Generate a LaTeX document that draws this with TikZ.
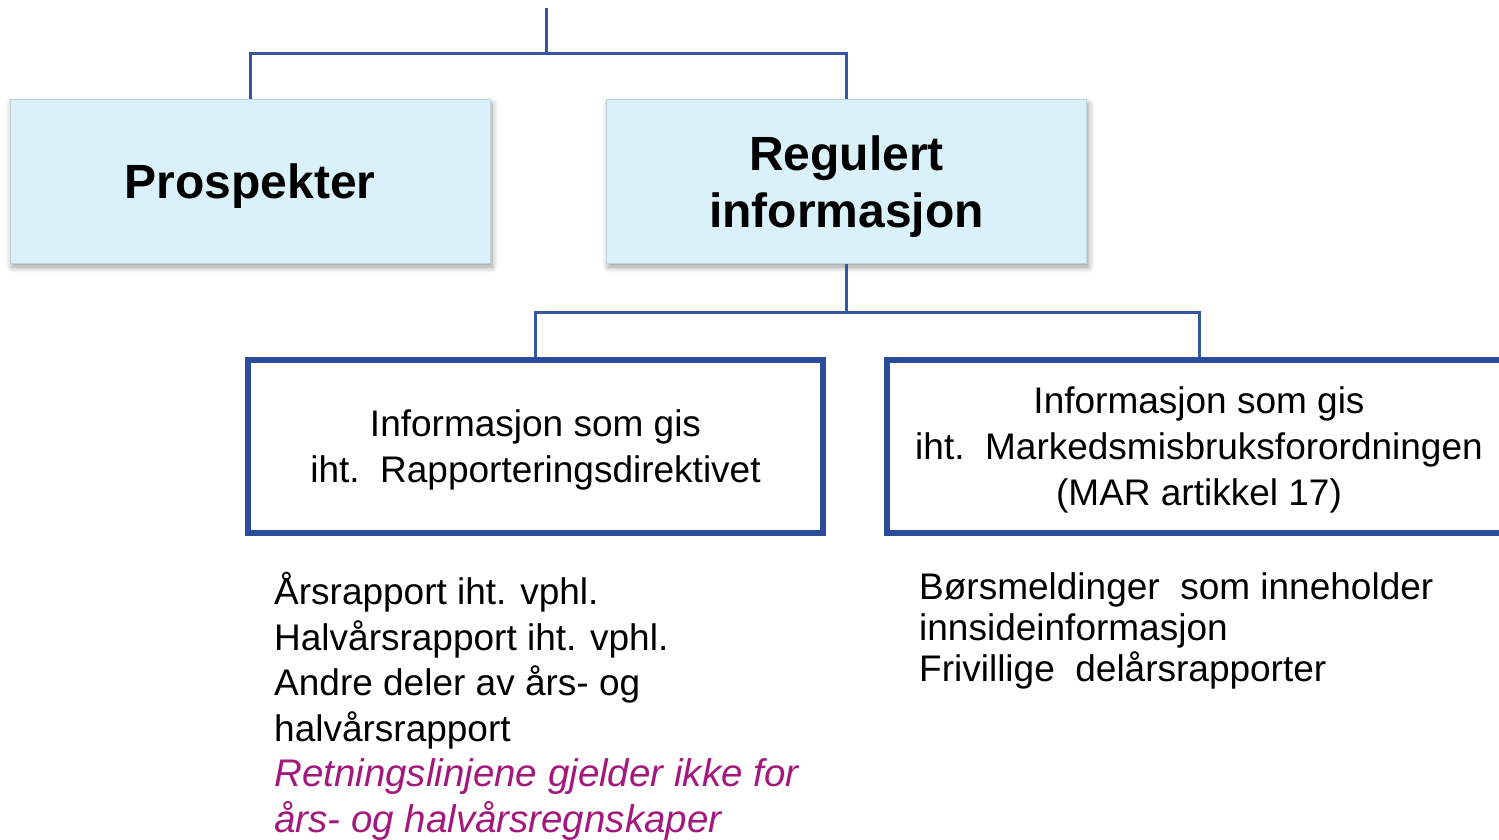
\documentclass[tikz,border=0pt]{standalone}
\usepackage{fontspec}
\setmainfont{Liberation Sans}
\usetikzlibrary{shadows.blur}
\definecolor{lineblue}{HTML}{3556A0}
\definecolor{boxblue}{HTML}{2B4C9B}
\definecolor{cyanfill}{HTML}{DAF1F9}
\definecolor{cyanedge}{HTML}{BFD2D8}
\definecolor{magentatxt}{HTML}{A3187C}
\tikzset{
  topbox/.style={draw=cyanedge, line width=1pt, fill=cyanfill, minimum width=480pt, minimum height=163pt,
    inner sep=0pt, align=center, text depth=0pt, font=\fontsize{48}{57}\selectfont\bfseries,
    blur shadow={shadow xshift=2pt, shadow yshift=-4pt, shadow blur radius=6pt, shadow blur steps=10, shadow opacity=40}},
  subbox/.style={draw=boxblue, line width=6pt, fill=white, minimum height=173pt,
    inner sep=0pt, align=center, text depth=0pt, font=\fontsize{37}{46}\selectfont},
  conn/.style={draw=lineblue, line width=3pt},
  listtxt/.style={anchor=north west, align=left, inner sep=0pt},
}
\begin{document}
\begin{tikzpicture}[x=1pt,y=-1pt]
\useasboundingbox (0,0) rectangle (1499,840);
\node[topbox] (pros) at (250,181.5) {Prospekter};
\node[topbox] (reg) at (846.5,181.5) {Regulert\\informasjon};
\node[subbox, minimum width=575pt] (rap) at (535.5,446.5) {Informasjon som gis\\iht.\ \ Rapporteringsdirektivet};
\node[subbox, minimum width=624pt] (mar) at (1199,446.5) {Informasjon som gis\\iht.\ \ Markedsmisbruksforordningen\\(MAR artikkel 17)};
\coordinate (top) at (546,8);
\coordinate (j1) at (546,54);
\coordinate (j2) at (846.5,312);
\draw[conn] (top) -- (j1);
\draw[conn] (pros.north) |- (j1) -| (reg.north);
\draw[conn] (reg.south) -- (j2);
\draw[conn] (rap.north) |- (j2) -| (mar.north);
\node[listtxt, font=\fontsize{37}{45.6}\selectfont] (list1) at (274,572) {%
\AA rsrapport iht. vphl.\\
Halvårsrapport iht. vphl.\\
Andre deler av års- og\\
halvårsrapport\\
\textcolor{magentatxt}{\fontsize{38.5}{45.6}\selectfont\itshape Retningslinjene gjelder ikke for}\\
\textcolor{magentatxt}{\fontsize{38.5}{45.6}\selectfont\itshape års- og halvårsregnskaper}};
\node[listtxt, font=\fontsize{37}{41}\selectfont] (list2) at (919,572) {%
Børsmeldinger\ \ som inneholder\\
innsideinformasjon\\
Frivillige\ \ delårsrapporter};
\end{tikzpicture}
\end{document}
